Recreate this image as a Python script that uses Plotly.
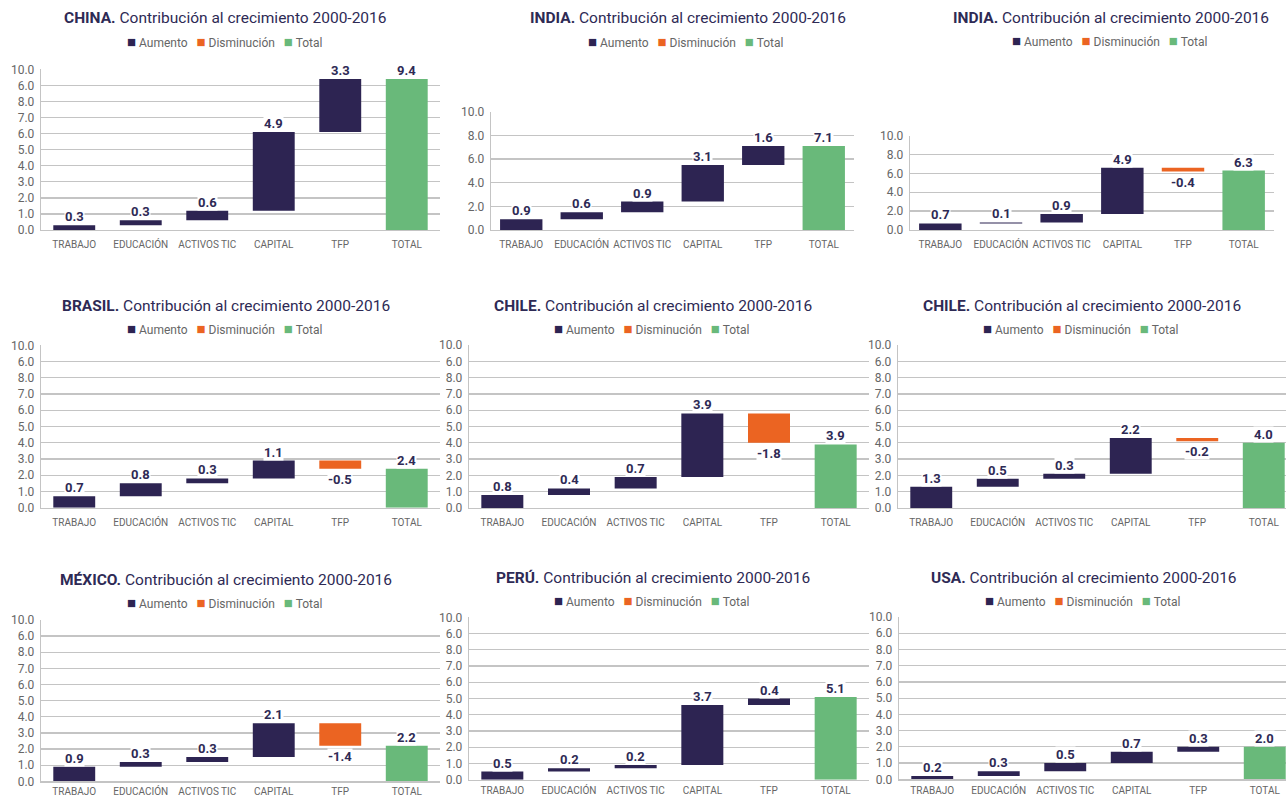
import plotly.graph_objects as go

W, H = 1286, 799

categories = ["TRABAJO", "EDUCACIÓN", "ACTIVOS TIC", "CAPITAL", "TFP", "TOTAL"]
subtitle = "Contribución al crecimiento 2000-2016"
countries = ["CHINA.", "INDIA.", "INDIA.", "BRASIL.", "CHILE.", "CHILE.", "MÉXICO.", "PERÚ.", "USA."]
legend_labels = ["Aumento", "Disminución", "Total"]

china = [0.3, 0.3, 0.6, 4.9, 3.3, 9.4]
india_a = [0.9, 0.6, 0.9, 3.1, 1.6, 7.1]
india_b = [0.7, 0.1, 0.9, 4.9, -0.4, 6.3]
brasil = [0.7, 0.8, 0.3, 1.1, -0.5, 2.4]
chile_a = [0.8, 0.4, 0.7, 3.9, -1.8, 3.9]
chile_b = [1.3, 0.5, 0.3, 2.2, -0.2, 4.0]
mexico = [0.9, 0.3, 0.3, 2.1, -1.4, 2.2]
peru = [0.5, 0.2, 0.2, 3.7, 0.4, 5.1]
usa = [0.2, 0.3, 0.5, 0.7, 0.3, 2.0]

ticks_fine = [0, 1, 2, 3, 4, 5, 6, 7, 8, 9, 10]
ticktext_fine = ["0.0", "1.0", "2.0", "3.0", "4.0", "5.0", "6.0", "7.0", "8.0", "6.0", "10.0"]
ticks_coarse = [0, 2, 4, 6, 8, 10]
ticktext_coarse = ["0.0", "2.0", "4.0", "6.0", "8.0", "10.0"]

series = [china, india_a, india_b, brasil, chile_a, chile_b, mexico, peru, usa]

C_UP = "#2D2452"
C_DOWN = "#EB6422"
C_TOT = "#69B97A"
C_TITLE = "#2E2A55"
C_GRAY = "#666666"
C_GRID = "#C4C4C4"

# panel geometry in pixels: x0, x1 (full category span), ytop (value 10), ybot (value 0), ticks, bar width, title x, title y, legend x, legend y, x-label standoff
panels = [
    (41, 440, 69.3, 230.0, "fine", 0.63, 225, 18.5, 224, 42, 5),
    (491, 854, 111.7, 230.0, "coarse", 0.70, 688, 18.5, 685, 42, 5),
    (910, 1274, 135.7, 230.0, "coarse", 0.70, 1111, 18, 1109, 41, 5),
    (41, 440, 345.3, 507.7, "fine", 0.63, 226, 306, 224, 329, 5),
    (469, 869, 345.0, 508.0, "fine", 0.63, 653, 306, 651, 329, 5),
    (898, 1297, 345.0, 508.0, "fine", 0.63, 1082, 306, 1080, 329, 5),
    (41, 440, 620.0, 781.3, "fine", 0.63, 226, 580, 224, 603, 0),
    (469, 869, 617.3, 779.7, "fine", 0.63, 653, 578, 651, 601, 1),
    (899, 1298, 617.0, 779.3, "fine", 0.63, 1084, 578, 1082, 601, 1),
]

fig = go.Figure()
annotations = []
layout = {}

for k, (vals, pan) in enumerate(zip(series, panels)):
    x0, x1, yt, yb, tk, bw, tx, ty, lx, ly, xso = pan
    n = k + 1
    xa = "x" if n == 1 else f"x{n}"
    ya = "y" if n == 1 else f"y{n}"
    step = (x1 - x0) / 6.0
    right = min(x1, W)
    rng_end = -0.5 + (right - x0) / step

    fig.add_trace(go.Waterfall(
        x=categories, y=vals,
        measure=["relative"] * 5 + ["absolute"],
        xaxis=xa, yaxis=ya,
        width=bw,
        connector=dict(visible=False),
        increasing=dict(marker=dict(color=C_UP)),
        decreasing=dict(marker=dict(color=C_DOWN)),
        totals=dict(marker=dict(color=C_TOT)),
        textinfo="none", hoverinfo="skip", showlegend=False,
    ))

    tv = ticks_fine if tk == "fine" else ticks_coarse
    tt = ticktext_fine if tk == "fine" else ticktext_coarse
    layout["xaxis" if n == 1 else f"xaxis{n}"] = dict(
        domain=[x0 / W, right / W], anchor=ya, type="category", automargin=False,
        range=[-0.5, rng_end], showgrid=False, showline=True, linecolor=C_GRID, linewidth=1.3,
        ticks="", ticklabelstandoff=xso,
        tickfont=dict(family="Roboto", size=10, color=C_GRAY), fixedrange=True,
    )
    layout["yaxis" if n == 1 else f"yaxis{n}"] = dict(
        domain=[1 - yb / H, 1 - yt / H], anchor=xa, range=[0, 10], automargin=False,
        tickvals=tv, ticktext=tt, showgrid=True, gridcolor=C_GRID, gridwidth=1.3,
        showline=True, linecolor=C_GRID, linewidth=1.3, zeroline=False, ticks="",
        ticklabelstandoff=3,
        tickfont=dict(family="Roboto", size=12, color=C_GRAY), fixedrange=True,
    )

    # data labels
    run = 0.0
    for i, v in enumerate(vals):
        if i < 5:
            run = run + v
            ypos = run
            anc = "bottom" if v >= 0 else "top"
        else:
            ypos = v
            anc = "bottom"
        annotations.append(dict(
            x=categories[i], y=ypos, xref=xa, yref=ya, text=f"{v:.1f}", showarrow=False,
            yanchor=anc, xanchor="center", bgcolor="white", borderpad=0,
            yshift=0 if anc == "bottom" else -2,
            font=dict(family="Roboto", size=13, color=C_TITLE, weight="bold"),
        ))

    # title
    annotations.append(dict(
        x=tx / W, y=1 - ty / H, xref="paper", yref="paper", showarrow=False,
        xanchor="center", yanchor="middle",
        text=f"<b>{countries[k]}</b> {subtitle}",
        font=dict(family="Roboto", size=15.5, color=C_TITLE),
    ))
    # legend
    sq = "<span style='color:{};font-size:15px'>■</span>"
    leg = (f"{sq.format(C_UP)} {legend_labels[0]}   "
           f"{sq.format(C_DOWN)} {legend_labels[1]}   "
           f"{sq.format(C_TOT)} {legend_labels[2]}")
    annotations.append(dict(
        x=lx / W, y=1 - ly / H, xref="paper", yref="paper", showarrow=False,
        xanchor="center", yanchor="middle", text=leg,
        font=dict(family="Roboto", size=12, color=C_GRAY),
    ))

fig.update_layout(
    width=W, height=H, margin=dict(l=0, r=0, t=0, b=0, autoexpand=False),
    paper_bgcolor="white", plot_bgcolor="white",
    annotations=annotations, **layout,
)

fig.write_html(
    "out.html",
    config={"displayModeBar": False, "staticPlot": True},
    post_script=(
        "document.body.style.margin='0';document.body.style.overflow='hidden';"
        "document.documentElement.style.overflow='hidden';"
    ),
)
